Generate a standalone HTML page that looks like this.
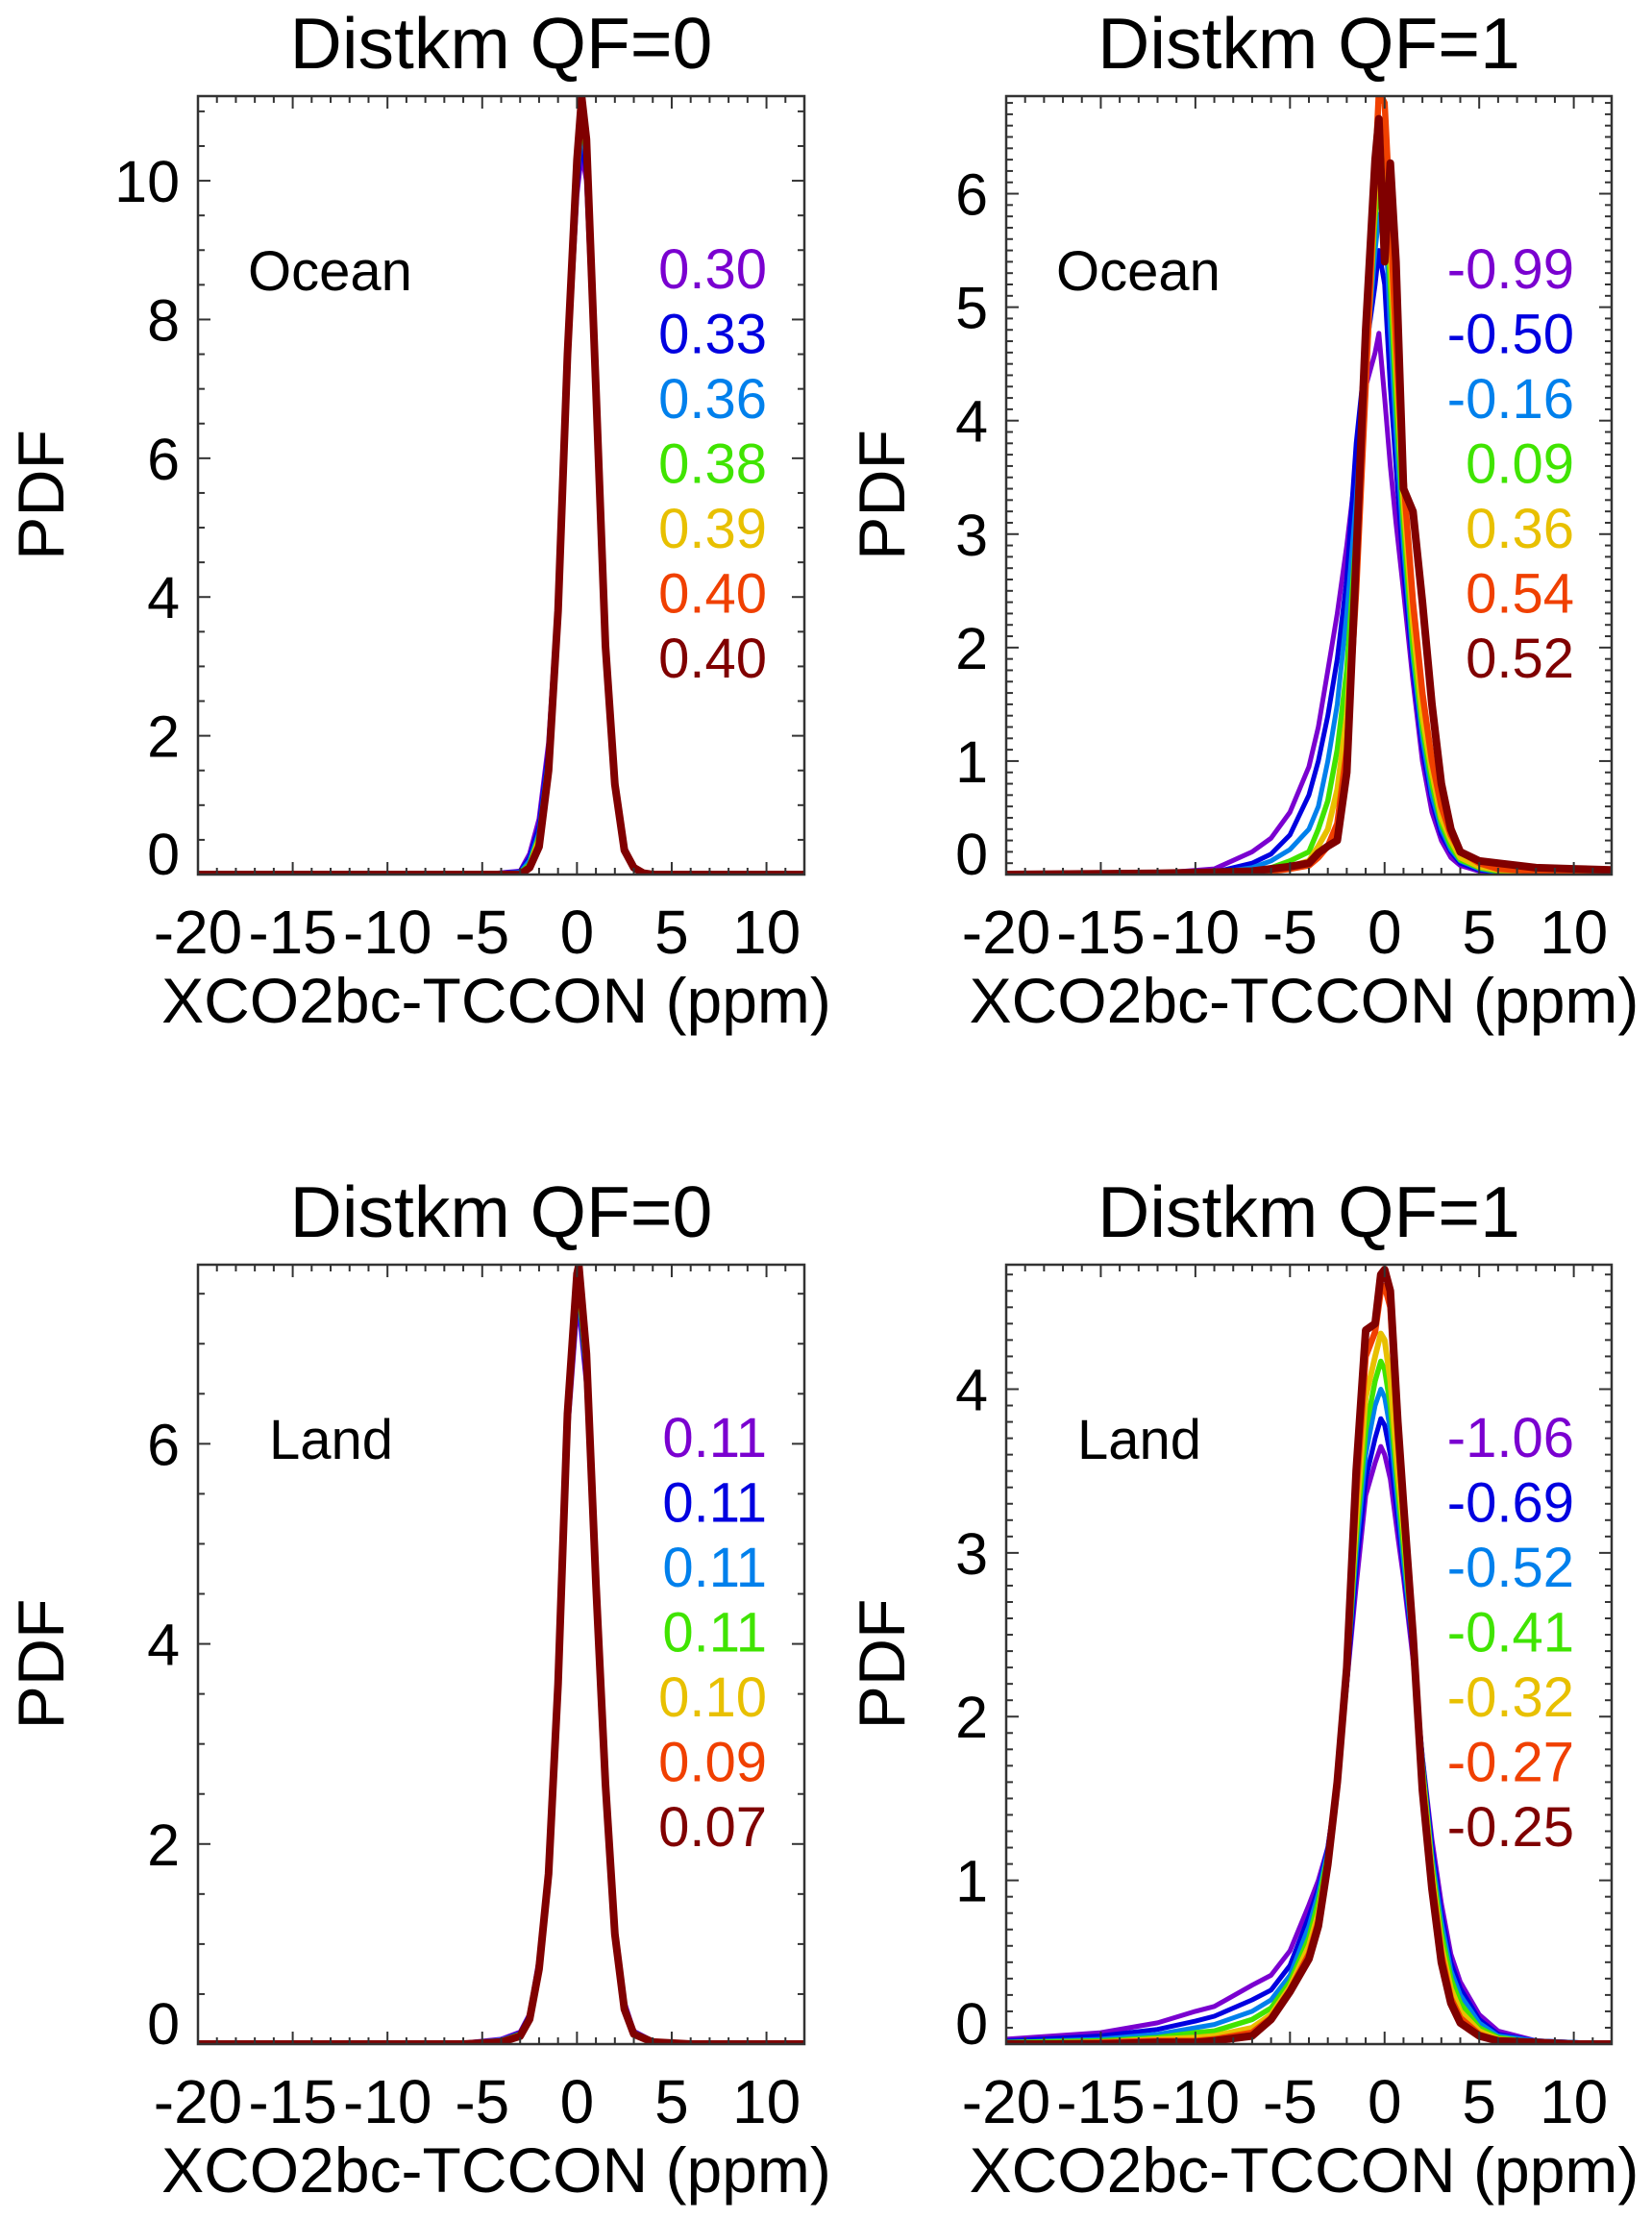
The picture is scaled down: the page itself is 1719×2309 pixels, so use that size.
<!DOCTYPE html>
<html><head><meta charset="utf-8">
<style>
html,body{margin:0;padding:0;background:#fff;}
svg{display:block;font-family:"Liberation Sans",sans-serif;}
</style></head>
<body>
<svg id="fig" width="1719" height="2309" viewBox="0 0 1719 2309" xmlns="http://www.w3.org/2000/svg">
<rect width="1719" height="2309" fill="#fff"/>
</svg>
<script>
// ---------- data ----------
const colors = ["#7a00d0","#0000e0","#0080ec","#40e400","#e8c000","#f04000","#800000"];
const seriesNames = ["s1","s2","s3","s4","s5","s6","s7"];

// Top-left: Ocean QF=0
const tlX = [-20,-5,-3,-2.5,-2,-1.5,-1,-0.5,0,0.25,0.5,1,1.5,2,2.5,3,3.5,4,5,12];
const tlS1 = [0,0,0.05,0.3,0.8,1.9,4.0,7.3,9.8,10.4,10.0,6.8,3.3,1.3,0.4,0.12,0.03,0,0,0];
const tlS2 = [0,0,0.04,0.25,0.7,1.8,3.9,7.3,9.9,10.6,10.1,6.9,3.3,1.3,0.38,0.11,0.03,0,0,0];
const tlS3 = [0,0,0.03,0.2,0.6,1.7,3.9,7.4,10.0,10.8,10.3,6.9,3.3,1.3,0.37,0.1,0.02,0,0,0];
const tlS4 = [0,0,0.02,0.15,0.55,1.6,3.85,7.4,10.1,10.9,10.4,7.0,3.3,1.3,0.36,0.1,0.02,0,0,0];
const tlS5 = [0,0,0.01,0.12,0.5,1.55,3.8,7.5,10.2,11.0,10.5,7.0,3.3,1.3,0.35,0.1,0.02,0,0,0];
const tlS6 = [0,0,0,0.1,0.45,1.5,3.8,7.5,10.25,11.1,10.55,7.0,3.3,1.3,0.35,0.1,0.02,0,0,0];
const tlS7 = [0,0,0,0.1,0.4,1.5,3.8,7.5,10.3,11.2,10.6,7.0,3.3,1.3,0.35,0.1,0.02,0,0,0];
const tlLegend = ["0.30","0.33","0.36","0.38","0.39","0.40","0.40"];

// Top-right: Ocean QF=1
const trX = [-20,-12,-9,-7,-6,-5,-4,-3.5,-3,-2.5,-2,-1.5,-1,-0.5,-0.3,0,0.3,0.6,1,1.5,2,2.5,3,3.5,4,5,6,8,10,12];
const trS1 = [0,0.01,0.05,0.2,0.32,0.55,0.95,1.3,1.8,2.3,2.9,3.6,4.3,4.6,4.77,4.2,3.6,3.1,2.5,1.7,1.0,0.55,0.3,0.15,0.08,0.03,0.01,0.01,0,0];
const trS2 = [0,0,0.02,0.1,0.18,0.35,0.7,1.0,1.4,1.9,2.6,3.8,4.6,5.2,5.5,5.2,4.3,3.6,2.7,1.8,1.1,0.65,0.35,0.2,0.1,0.04,0.02,0.01,0,0];
const trS3 = [0,0,0.01,0.06,0.12,0.22,0.4,0.6,1.0,1.5,2.3,3.3,4.5,5.5,5.8,5.9,4.8,3.9,2.9,1.9,1.2,0.7,0.4,0.22,0.12,0.05,0.02,0.01,0,0];
const trS4 = [0,0,0.01,0.03,0.06,0.12,0.2,0.4,0.65,1.1,1.8,3.0,4.4,5.8,6.1,6.2,5.2,4.2,3.1,2.0,1.3,0.8,0.45,0.25,0.13,0.06,0.03,0.01,0.01,0];
const trS5 = [0,0,0.01,0.02,0.04,0.07,0.12,0.25,0.4,0.75,1.4,2.7,4.3,6.0,6.4,6.5,5.5,4.5,3.3,2.2,1.4,0.9,0.5,0.3,0.15,0.07,0.04,0.02,0.01,0.01];
const trS6 = [0,0,0.01,0.02,0.03,0.05,0.08,0.15,0.25,0.45,1.1,2.5,4.3,6.2,6.9,6.8,5.8,4.7,3.5,2.4,1.6,1.0,0.6,0.35,0.2,0.1,0.05,0.03,0.02,0.01];
const trS7 = [0,0.01,0.02,0.03,0.05,0.07,0.1,0.19,0.25,0.3,0.9,2.8,4.8,6.3,6.66,5.4,6.27,5.4,3.4,3.2,2.4,1.5,0.8,0.4,0.2,0.12,0.1,0.06,0.05,0.04];
const trLegend = ["-0.99","-0.50","-0.16","0.09","0.36","0.54","0.52"];

// Bottom-left: Land QF=0
const blX = [-20,-6,-4,-3,-2.5,-2,-1.5,-1,-0.5,0,0.1,0.5,1,1.5,2,2.5,3,4,6,12];
const blS1 = [0,0.01,0.05,0.12,0.3,0.85,1.8,3.6,6.1,7.35,7.35,6.6,4.6,2.7,1.2,0.42,0.13,0.03,0,0];
const blS2 = [0,0.01,0.04,0.11,0.29,0.83,1.78,3.6,6.15,7.42,7.45,6.65,4.6,2.68,1.18,0.4,0.12,0.03,0,0];
const blS3 = [0,0.01,0.04,0.1,0.28,0.81,1.76,3.6,6.18,7.48,7.5,6.7,4.6,2.66,1.16,0.39,0.12,0.03,0,0];
const blS4 = [0,0,0.03,0.1,0.27,0.8,1.74,3.6,6.22,7.53,7.55,6.75,4.6,2.64,1.14,0.38,0.11,0.02,0,0];
const blS5 = [0,0,0.03,0.09,0.26,0.78,1.72,3.6,6.25,7.6,7.65,6.8,4.6,2.62,1.12,0.37,0.11,0.02,0,0];
const blS6 = [0,0,0.02,0.08,0.25,0.76,1.71,3.6,6.28,7.66,7.72,6.85,4.6,2.61,1.11,0.36,0.1,0.02,0,0];
const blS7 = [0,0,0.02,0.08,0.25,0.75,1.7,3.6,6.3,7.7,7.78,6.9,4.6,2.6,1.1,0.35,0.1,0.02,0,0];
const blLegend = ["0.11","0.11","0.11","0.11","0.10","0.09","0.07"];

// Bottom-right: Land QF=1
const brX = [-20,-15,-12,-10,-9,-7,-6,-5,-4,-3.5,-3,-2.5,-2,-1.5,-1,-0.5,-0.2,0,0.3,0.7,1,1.5,2,2.5,3,3.5,4,5,6,8,10,12];
const brS1 = [0.03,0.07,0.13,0.2,0.23,0.36,0.42,0.57,0.85,1.0,1.2,1.6,2.2,2.8,3.35,3.55,3.65,3.6,3.45,3.1,2.85,2.35,1.75,1.25,0.86,0.55,0.38,0.18,0.08,0.02,0.01,0];
const brS2 = [0.02,0.05,0.09,0.14,0.17,0.27,0.33,0.48,0.78,0.95,1.2,1.6,2.2,2.9,3.45,3.7,3.82,3.78,3.6,3.2,2.9,2.4,1.75,1.2,0.8,0.5,0.34,0.15,0.06,0.02,0.01,0];
const brS3 = [0.01,0.03,0.06,0.1,0.12,0.2,0.27,0.42,0.72,0.92,1.18,1.6,2.25,3.0,3.6,3.9,4.0,3.95,3.75,3.3,2.95,2.42,1.72,1.15,0.75,0.45,0.3,0.13,0.05,0.02,0.01,0];
const brS4 = [0.01,0.02,0.04,0.07,0.08,0.15,0.22,0.38,0.65,0.87,1.15,1.6,2.25,3.1,3.75,4.05,4.17,4.12,3.9,3.4,3.05,2.45,1.7,1.1,0.68,0.4,0.25,0.1,0.04,0.01,0,0];
const brS5 = [0,0.01,0.03,0.04,0.05,0.1,0.18,0.35,0.6,0.8,1.12,1.6,2.28,3.2,3.95,4.2,4.34,4.3,4.05,3.5,3.15,2.45,1.65,1.05,0.6,0.34,0.2,0.08,0.03,0.01,0,0];
const brS6 = [0,0.01,0.02,0.02,0.03,0.07,0.16,0.33,0.55,0.75,1.1,1.6,2.3,3.35,4.2,4.35,4.6,4.63,4.5,3.7,3.25,2.5,1.6,1.0,0.55,0.28,0.16,0.06,0.02,0.01,0,0];
const brS7 = [0,0,0.01,0.01,0.02,0.05,0.15,0.32,0.52,0.72,1.1,1.6,2.3,3.5,4.36,4.4,4.7,4.73,4.6,3.8,3.3,2.5,1.55,0.95,0.5,0.25,0.13,0.05,0.02,0.01,0,0];
const brLegend = ["-1.06","-0.69","-0.52","-0.41","-0.32","-0.27","-0.25"];

const xTickLabels = ["-20","-15","-10","-5","0","5","10"];
const tlYTicks = ["0","2","4","6","8","10"];
const trYTicks = ["0","1","2","3","4","5","6"];
const blYTicks = ["0","2","4","6"];
const brYTicks = ["0","1","2","3","4"];

// ---------- drawing ----------
const NS = "http://www.w3.org/2000/svg";
const svg = document.getElementById("fig");
function mk(tag, attrs, parent){
  const e = document.createElementNS(NS, tag);
  for (const k in attrs) e.setAttribute(k, attrs[k]);
  (parent||svg).appendChild(e);
  return e;
}
const lineWidths = [5,5,5,5.5,6,6.5,8];

function drawPanel(p){
  const g = mk("g", {});
  
  
  const L=p.left, R=p.right, T=p.top, B=p.bottom;
  const xs = v => L + (v - (-20)) / (12 - (-20)) * (R - L);
  const ys = v => B - (v - 0) / (p.ymax - 0) * (B - T);

  const t = mk("text", {x:(L+R)/2, y:T-29, "text-anchor":"middle", "font-size":75, fill:"#000"}, g);
  t.textContent = p.title;
  
  

  const cid = "clip-" + p.name;
  const cp = mk("clipPath", {id:cid}, g);
  mk("rect", {x:L, y:T, width:R-L, height:B-T}, cp);

  const sg = mk("g", {"clip-path":"url(#"+cid+")"}, g);
  for (let i=0;i<p.series.length;i++){
    const ys_ = p.series[i];
    let d = "";
    for (let j=0;j<p.x.length;j++){
      d += (j? "L":"M") + xs(p.x[j]).toFixed(1) + " " + ys(ys_[j]).toFixed(1);
    }
    const path = mk("path", {d:d, fill:"none", stroke:colors[i], "stroke-width":lineWidths[i], "stroke-linejoin":"round"}, sg);
    
    
  }

  const fr = mk("rect", {x:L, y:T, width:R-L, height:B-T, fill:"none", stroke:"#333", "stroke-width":2.5}, g);
  
  

  for (let v=-20; v<=12; v+=1){
    const major = (v % 5 === 0);
    const len = major ? 13 : 7;
    const X = xs(v);
    mk("line", {x1:X, y1:B, x2:X, y2:B-len, stroke:"#333", "stroke-width":2}, g);
    mk("line", {x1:X, y1:T, x2:X, y2:T+len, stroke:"#333", "stroke-width":2}, g);
  }
  for (let i=0;i<xTickLabels.length;i++){
    const v = parseFloat(xTickLabels[i]);
    const tl = mk("text", {x:xs(v), y:B+82, "text-anchor":"middle", "font-size":64, fill:"#000"}, g);
    tl.textContent = xTickLabels[i];
    
    
  }
  const nMinor = Math.floor(p.ymax / p.yMinor + 1e-6);
  for (let k=0;k<=nMinor;k++){
    const v = k*p.yMinor;
    const major = Math.abs(v/p.yMajor - Math.round(v/p.yMajor)) < 1e-6;
    const len = major ? 13 : 7;
    const Y = ys(v);
    mk("line", {x1:L, y1:Y, x2:L+len, y2:Y, stroke:"#333", "stroke-width":2}, g);
    mk("line", {x1:R, y1:Y, x2:R-len, y2:Y, stroke:"#333", "stroke-width":2}, g);
  }
  for (let i=0;i<p.yTicks.length;i++){
    const v = parseFloat(p.yTicks[i]);
    let Y = ys(v) + 22;
    if (v === 0) Y = B;
    const tl = mk("text", {x:L-19, y:Y, "text-anchor":"end", "font-size":61, fill:"#000"}, g);
    tl.textContent = p.yTicks[i];
    
    
  }
  const xt = mk("text", {x:(L+R)/2-5, y:B+154, "text-anchor":"middle", "font-size":66, fill:"#000"}, g);
  xt.textContent = "XCO2bc-TCCON (ppm)";
  
  
  const yx = L - p.pdfDx, yy = (T+B)/2 + 10;
  const yt = mk("text", {x:yx, y:yy, "text-anchor":"middle", "font-size":68, fill:"#000", transform:"rotate(-90 "+yx+" "+yy+")"}, g);
  yt.textContent = "PDF";
  
  

  const rl = mk("text", {x:L+p.labelDx, y:T+202, "font-size":58, fill:"#000"}, g);
  rl.textContent = p.region;
  
  

  for (let i=0;i<p.legend.length;i++){
    const lt = mk("text", {x:R-39, y:T+200+i*67.5, "text-anchor":"end", "font-size":58, fill:colors[i]}, g);
    lt.textContent = p.legend[i];
    
    
  }
}

drawPanel({name:"panel-ocean-qf0", title:"Distkm QF=0", region:"Ocean", left:206, right:837, top:100, bottom:910,
  ymax:11.22, yMajor:2, yMinor:0.5, yTicks:tlYTicks, x:tlX, series:[tlS1,tlS2,tlS3,tlS4,tlS5,tlS6,tlS7], legend:tlLegend, labelDx:52, pdfDx:140});
drawPanel({name:"panel-ocean-qf1", title:"Distkm QF=1", region:"Ocean", left:1047, right:1677, top:100, bottom:910,
  ymax:6.86, yMajor:1, yMinor:0.1, yTicks:trYTicks, x:trX, series:[trS1,trS2,trS3,trS4,trS5,trS6,trS7], legend:trLegend, labelDx:52, pdfDx:106});
drawPanel({name:"panel-land-qf0", title:"Distkm QF=0", region:"Land", left:206, right:837, top:1316, bottom:2127,
  ymax:7.79, yMajor:2, yMinor:0.5, yTicks:blYTicks, x:blX, series:[blS1,blS2,blS3,blS4,blS5,blS6,blS7], legend:blLegend, labelDx:74, pdfDx:140});
drawPanel({name:"panel-land-qf1", title:"Distkm QF=1", region:"Land", left:1047, right:1677, top:1316, bottom:2127,
  ymax:4.76, yMajor:1, yMinor:0.1, yTicks:brYTicks, x:brX, series:[brS1,brS2,brS3,brS4,brS5,brS6,brS7], legend:brLegend, labelDx:74, pdfDx:106});
</script>
</body></html>
